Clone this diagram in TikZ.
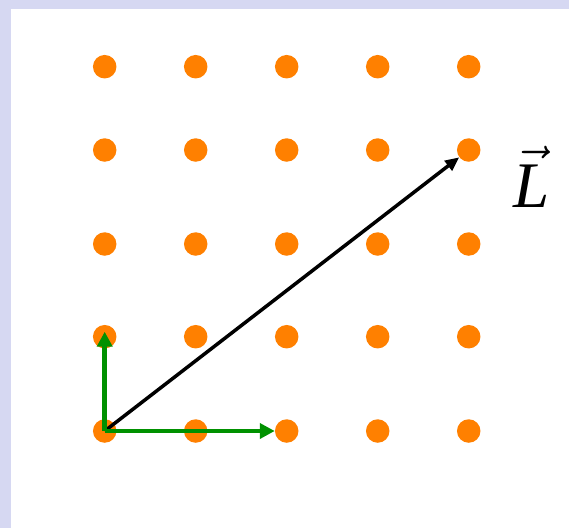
\documentclass[tikz,border=0pt]{standalone}
\usepackage{fix-cm}
\usepackage{fontspec}
\setmainfont{Liberation Serif}
\usetikzlibrary{arrows.meta}

\definecolor{dotorange}{RGB}{255,128,0}
\definecolor{basegreen}{RGB}{0,145,0}
\definecolor{framelav}{RGB}{214,216,242}

\begin{document}
\begin{tikzpicture}[x=1pt, y=-1pt,
    dot/.style={circle, fill=dotorange, inner sep=0pt, minimum size=23.5pt},
    basevec/.style={draw=basegreen, line width=4.8pt, -{Triangle[length=15pt, width=15pt]}},
    latvec/.style={draw=black, line width=3.5pt, -{Triangle[length=14pt, width=12pt]}}]

    % --- Frame: lavender strip on top and left ---
    \fill[framelav] (0,0) rectangle (569,528);
    \fill[white] (11,9) rectangle (569,528);
    \useasboundingbox (0,0) rectangle (569,528);

    % --- Lattice points: columns i, rows j (j=1 at the bottom) ---
    \foreach \y [count=\j] in {431,336.7,244,150,66.7}
        \foreach \x [count=\i] in {104.7,195.7,286.7,377.7,468.7}
            \node[dot] (d-\i-\j) at (\x,\y) {};

    % --- Lattice vector ---
    \draw[latvec] (d-1-1.center) -- (d-5-4);
    \node[anchor=base west, font=\fontsize{65}{65}\selectfont] (lbl) at (510,207) {$\vec{\textit{L}}$};

    % --- Basis vectors ---
    \draw[basevec, shorten >=-5pt] (d-1-1.center) -- (d-1-2.center);
    \draw[basevec] (d-1-1.center) -- (d-3-1);
\end{tikzpicture}
\end{document}
